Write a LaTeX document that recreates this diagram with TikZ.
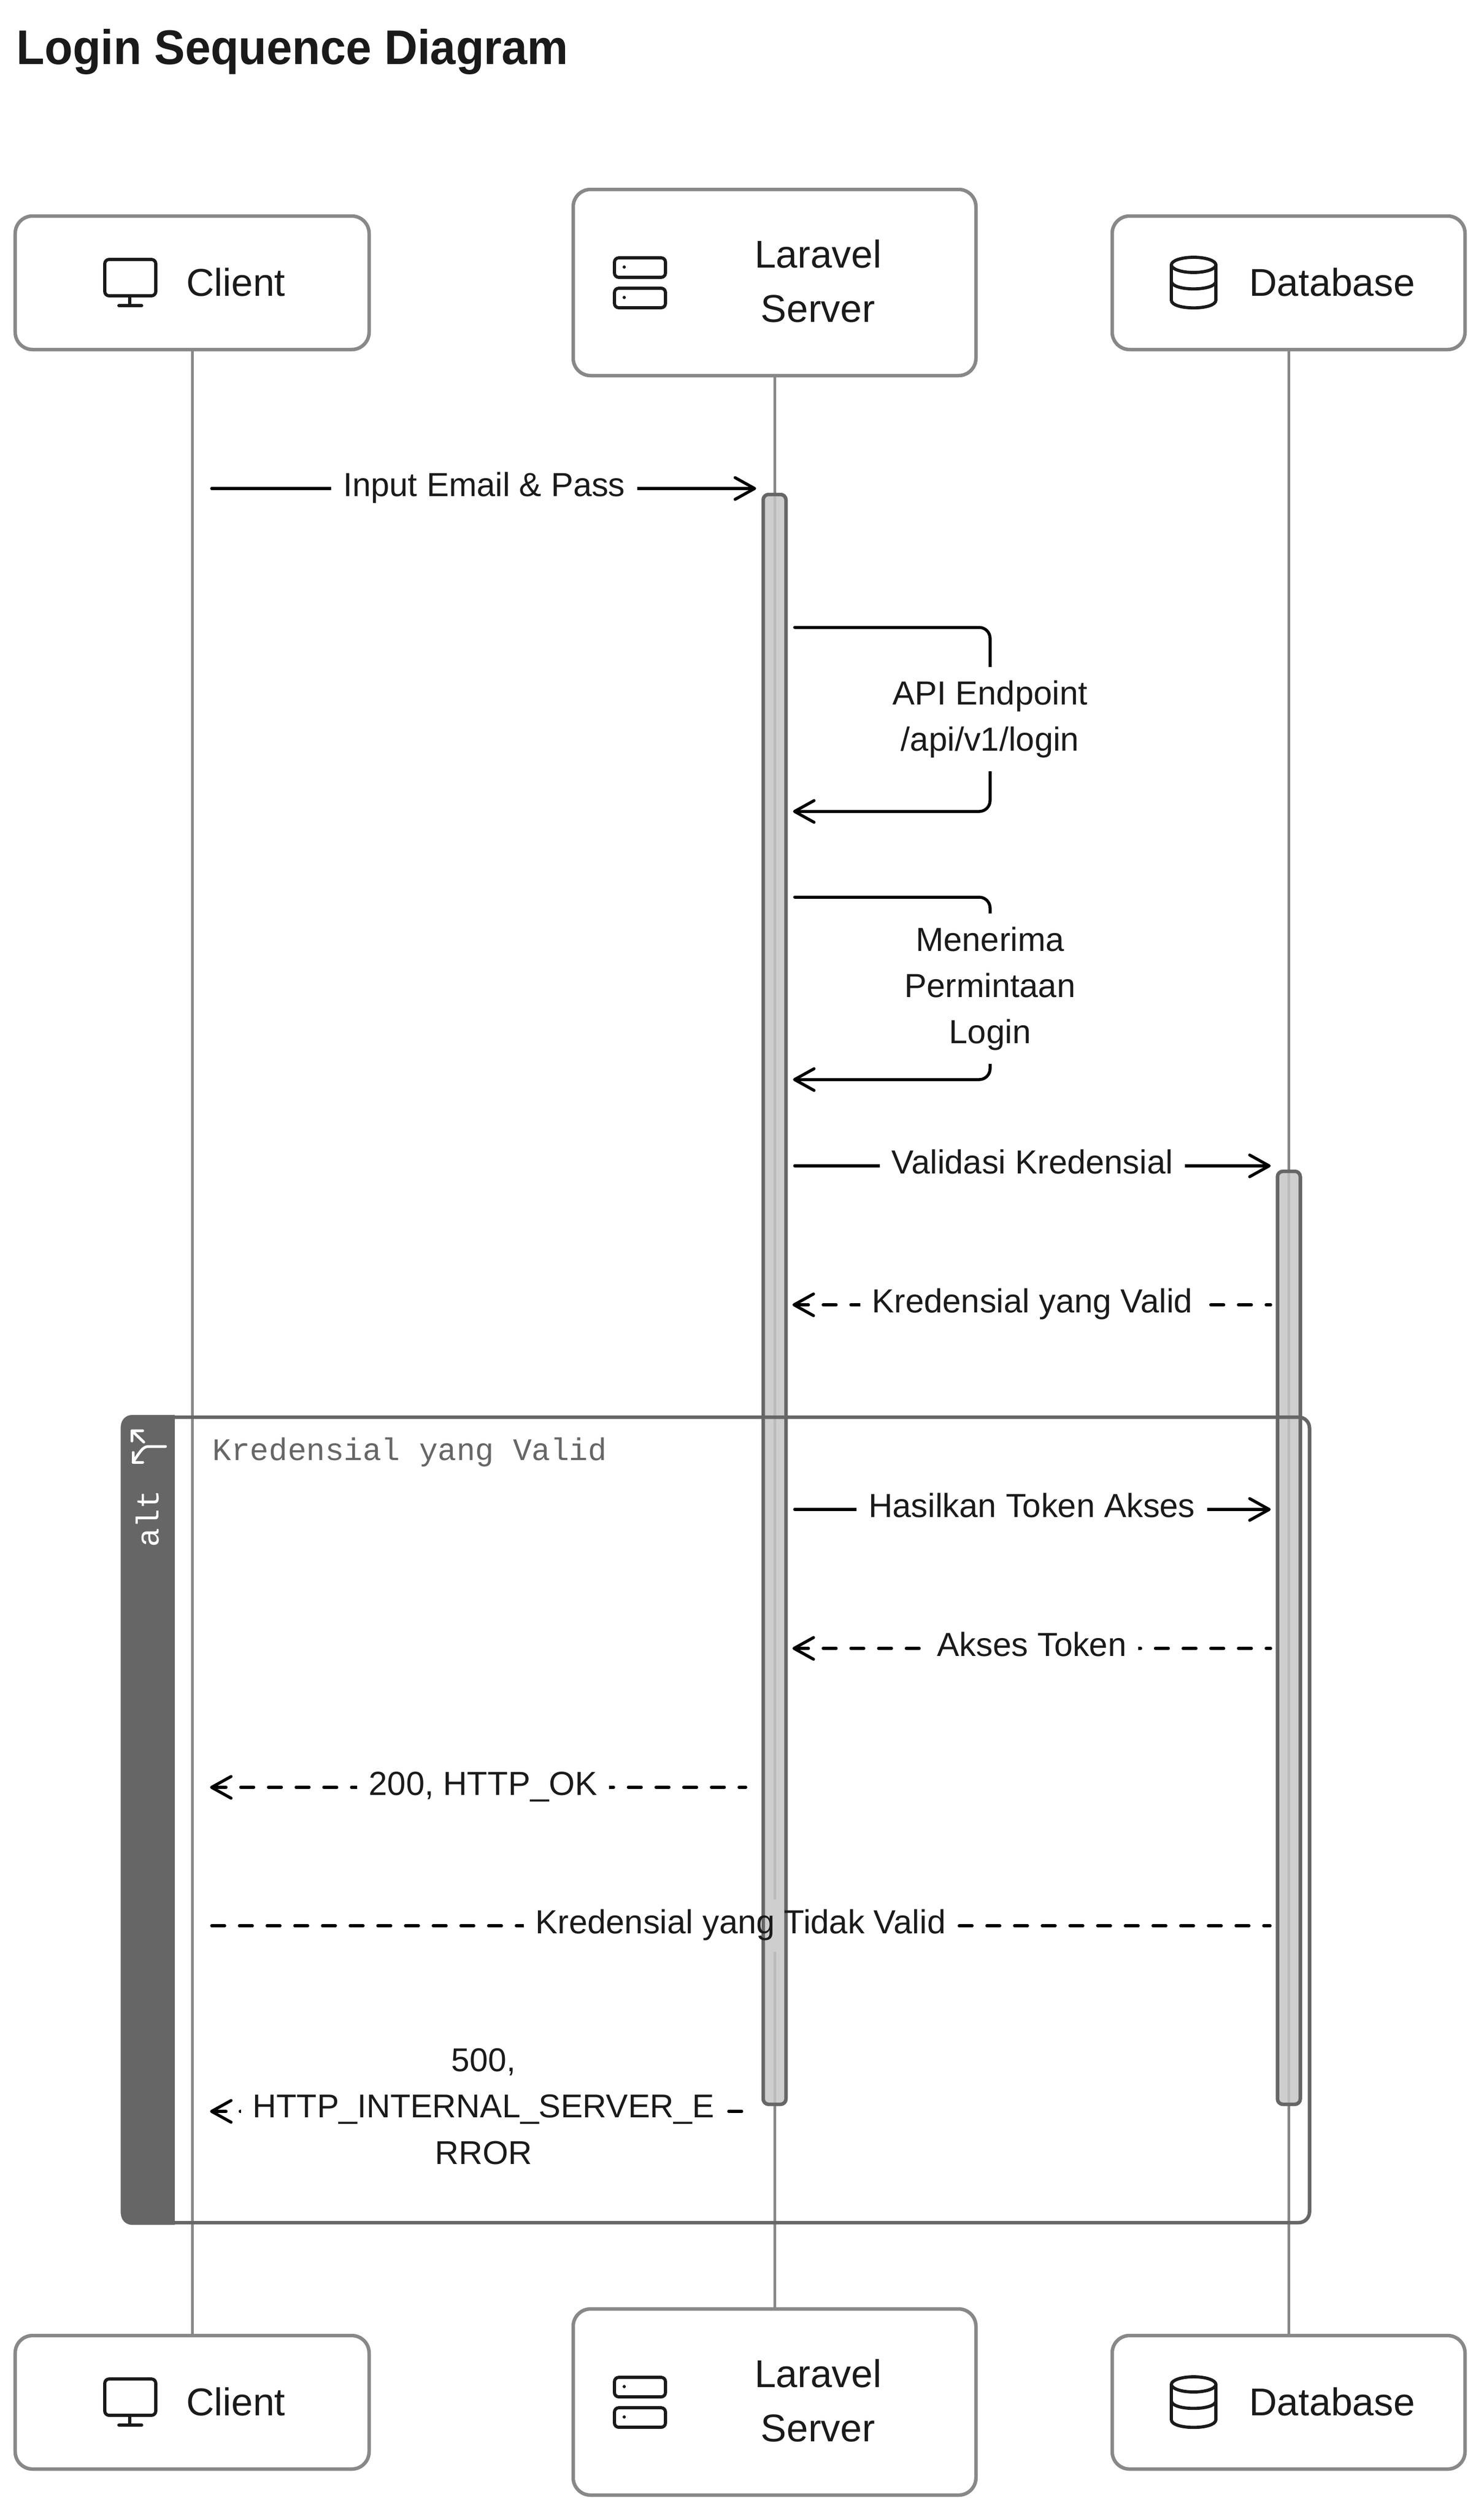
\documentclass[tikz,border=0pt]{standalone}
\usepackage{fontspec}
\setmainfont{Liberation Sans}
\setmonofont{Liberation Mono}
\usetikzlibrary{arrows.meta}
\definecolor{boxgray}{HTML}{888888}
\definecolor{framegray}{HTML}{666666}
\definecolor{actgray}{HTML}{C5C5C5}
\definecolor{inkgray}{HTML}{1A1A1A}
\tikzset{
  actorbox/.style={draw=boxgray,line width=.065cm,rounded corners=.32cm,inner sep=0pt},
  actorname/.style={anchor=base,font=\fontsize{20.3}{28.2}\selectfont,text=inkgray,align=center,inner sep=0pt},
  lifeline/.style={draw=boxgray,line width=.05cm},
  iconline/.style={draw=inkgray,line width=.058cm,line cap=round,line join=round},
  activation/.style={draw=framegray,fill=actgray,fill opacity=.84,line width=.065cm,rounded corners=.1cm,minimum width=.42cm,inner sep=0pt},
  callline/.style={black,line width=.055cm,line cap=round,-{Straight Barb[length=.36cm,width=.4cm,round]}},
  replyline/.style={black,line width=.055cm,line cap=round,dash pattern=on .24cm off .27cm,{Straight Barb[length=.36cm,width=.4cm,round]}-},
  noteline/.style={black,line width=.055cm,line cap=round,dash pattern=on .24cm off .27cm},
  msglabel/.style={anchor=base,font=\fontsize{17.5}{24.2}\selectfont,text=inkgray,fill=white,text height=.45cm,text depth=.15cm,inner xsep=.22cm,inner ysep=.18cm},
  blocklabel/.style={font=\fontsize{17.5}{24.2}\selectfont,text=inkgray,fill=white,align=center,inner xsep=.22cm,inner ysep=.25cm},
  framebox/.style={draw=framegray,line width=.065cm,rounded corners=.2cm,inner sep=0pt}
}
% straight message with its label on the line
\newcommand\msgline[7]{%
  \coordinate (#1a) at (#3,#5);
  \coordinate (#1b) at (#4,#5);
  \draw[#2] (#1a) -- (#1b);
  \node[msglabel] (#1l) at (#6,#5+.145) {#7};
}
% message from the server back to itself
\newcommand\selfline[6]{%
  \coordinate (#1a) at (14.64,#2);
  \coordinate (#1b) at (14.61,#3);
  \coordinate (#1c) at (18.24,#2);
  \coordinate (#1d) at (18.24,#3);
  \draw[callline,rounded corners=.2cm] (#1a) -- (#1c) -- (#1d) -- (#1b);
  \node[blocklabel] (#1l) at (18.24,#4) {#5\\#6};
}
\begin{document}
\begin{tikzpicture}[y=-1cm]
  \path[use as bounding box,fill=white] (0,0) rectangle (27.33,46.30);
  \node[anchor=base west,font=\fontsize{25.5}{32}\bfseries,text=inkgray,inner sep=0pt,xscale=.945,transform shape] (title) at (.30,1.18) {Login Sequence Diagram};

  % The participants
  \foreach \side/\yoff in {top/0,bot/39.05} {
    \node[actorbox,minimum width=6.52cm,minimum height=2.46cm] (client\side) at (3.54,5.21+\yoff) {};
    \node[actorbox,minimum width=7.42cm,minimum height=3.43cm] (server\side) at (14.27,5.205+\yoff) {};
    \node[actorbox,minimum width=6.50cm,minimum height=2.46cm] (db\side) at (23.74,5.21+\yoff) {};
    \node[actorname] (client\side name) at (4.345,5.45+\yoff) {Client};
    \node[actorname] (server\side name) at (15.07,5.93+\yoff) {Laravel\\Server};
    \node[actorname] (db\side name) at (24.54,5.45+\yoff) {Database};
    % monitor
    \draw[iconline,rounded corners=.08cm] (1.93,4.78+\yoff) rectangle (2.87,5.45+\yoff);
    \draw[iconline] (2.39,5.45+\yoff) -- (2.39,5.63+\yoff) (2.19,5.63+\yoff) -- (2.61,5.63+\yoff);
    % server
    \draw[iconline,rounded corners=.08cm] (11.32,4.75+\yoff) rectangle (12.26,5.11+\yoff);
    \draw[iconline,rounded corners=.08cm] (11.32,5.31+\yoff) rectangle (12.26,5.67+\yoff);
    \fill[inkgray] (11.50,4.92+\yoff) circle (.03) (11.50,5.48+\yoff) circle (.03);
    % database
    \draw[iconline] (21.99,4.88+\yoff) ellipse [x radius=.41,y radius=.14];
    \draw[iconline] (21.58,4.88+\yoff) -- (21.58,5.53+\yoff) .. controls (21.58,5.72+\yoff) and (22.40,5.72+\yoff) .. (22.40,5.53+\yoff) -- (22.40,4.88+\yoff);
    \draw[iconline] (21.58,5.18+\yoff) .. controls (21.58,5.37+\yoff) and (22.40,5.37+\yoff) .. (22.40,5.18+\yoff);
  }

  % The lifelines
  \draw[lifeline] (clienttop) -- (clientbot);
  \draw[lifeline] (servertop) -- (serverbot);
  \draw[lifeline] (dbtop) -- (dbbot);

  % The messages
  \msgline{input}{callline}{3.90}{13.93}{9.00}{8.92}{Input Email \& Pass}
  \selfline{endpoint}{11.56}{14.95}{13.25}{API Endpoint}{/api/v1/login}
  \selfline{accept}{16.53}{19.89}{18.215}{Menerima\\Permintaan}{Login}
  \msgline{validate}{callline}{14.64}{23.41}{21.48}{19.02}{Validasi Kredensial}
  \msgline{validreply}{replyline}{14.60}{23.41}{24.04}{19.02}{Kredensial yang Valid}
  \msgline{token}{callline}{14.64}{23.41}{27.81}{19.01}{Hasilkan Token Akses}
  \msgline{tokenreply}{replyline}{14.60}{23.41}{30.37}{19.01}{Akses Token}
  \msgline{okreply}{replyline}{3.87}{13.74}{32.93}{8.90}{200, HTTP\_OK}
  \msgline{invalid}{noteline}{3.90}{23.40}{35.48}{13.645}{\phantom{Kredensial yang Tidak Valid}}
  \coordinate (erra) at (3.87,38.90);
  \coordinate (errb) at (13.74,38.90);
  \draw[replyline,dash pattern=on .24cm off .26cm] (erra) -- (errb);
  \node[blocklabel,font=\fontsize{17.3}{24.2}\selectfont] (errl) at (8.91,38.81) {500,\\HTTP\_INTERNAL\_SERVER\_E\\RROR};

  % The activations
  \node[activation,minimum height=29.66cm] (serveract) at (14.27,23.94) {};
  \node[activation,minimum height=17.19cm] (dbact) at (23.745,30.175) {};

  % The alt frame
  \node[framebox,minimum width=21.87cm,minimum height=14.84cm] (altframe) at (13.19,33.53) {};
  \fill[framegray] (2.23,33) [rounded corners=.2cm] -- (2.23,26.07) [sharp corners] -- (3.22,26.07) -- (3.22,40.99) [rounded corners=.2cm] -- (2.23,40.99) -- cycle;
  \draw[white,line width=.05cm,line cap=round,line join=round] (3.05,26.65) -- (2.75,26.65) .. controls (2.65,26.65) and (2.62,26.68) .. (2.45,26.94);
  \draw[white,line width=.05cm,line cap=round,line join=round] (2.63,26.94) -- (2.45,26.94) -- (2.45,26.76);
  \draw[white,line width=.05cm,line cap=round,line join=round] (2.63,26.36) -- (2.43,26.36) -- (2.43,26.55) (2.43,26.36) -- (2.65,26.57);
  \node[anchor=base west,rotate=90,font=\fontsize{16.6}{20}\ttfamily,text=white,inner sep=0pt] (altname) at (2.92,28.51) {alt};
  \node[anchor=base west,font=\fontsize{16.4}{20}\ttfamily,text=framegray,inner sep=0pt] (altcond) at (3.91,26.90) {Kredensial yang Valid};

  % The label lying over the server activation
  \node[msglabel,fill=none] (invalidtext) at (13.645,35.48+.145) {Kredensial yang Tidak Valid};
\end{tikzpicture}
\end{document}
